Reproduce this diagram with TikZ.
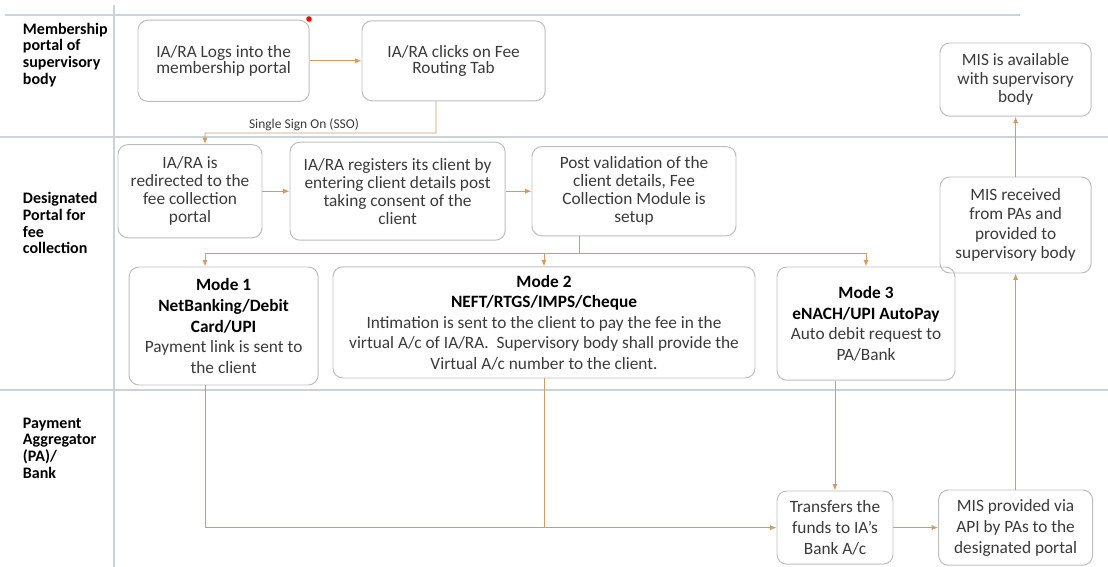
\documentclass[tikz,border=0pt]{standalone}
\usepackage{fontspec}
\setmainfont{Carlito}
\usepackage{tikz}
\usetikzlibrary{arrows.meta,positioning}
\definecolor{flow}{HTML}{D49A66}
\definecolor{edge}{HTML}{BDBDBD}
\definecolor{lane}{HTML}{C9D3DA}
\definecolor{ink}{HTML}{3A3A3A}

\begin{document}
\begin{tikzpicture}[
  stage/.style={draw=edge, rounded corners=7pt, line width=0.7pt, align=center, text=ink, inner sep=2pt, font=\fontsize{12.3}{12.8}\selectfont},
  lanelabel/.style={anchor=west, align=left, font=\fontsize{11.4}{11.9}\selectfont\bfseries},
  ssotext/.style={font=\fontsize{9.6}{10}\selectfont, text=ink, inner sep=1pt},
  flowline/.style={draw=flow, line width=0.7pt},
  flowarrow/.style={flowline, -{Latex[length=1.6mm,width=1.3mm]}},
  lanerule/.style={draw=lane, line width=1pt}
]
  \useasboundingbox (0,0) rectangle (27.7,-14.175);
  \draw[lanerule] (0.125,-0.375) -- (25.5,-0.375);
  \draw[lanerule] (0,-3.425) -- (27.7,-3.425);
  \draw[lanerule] (0,-9.75) -- (27.7,-9.75);
  \draw[lanerule] (2.85,-0.125) -- (2.85,-14.175);

  \node[lanelabel] (memb) at (0.45,-1.37) {Membership\\portal of\\supervisory\\body};
  \node[lanelabel] (desig) at (0.45,-5.58) {Designated\\Portal for\\fee\\collection};
  \node[lanelabel] (payag) at (0.45,-11.2) {Payment\\Aggregator\\(PA)/\\Bank};

  \node[stage, minimum width=4.28cm, minimum height=2.03cm, font=\fontsize{12.3}{11.6}\selectfont] (logs) at (5.59,-1.52) {IA/RA Logs into the\\membership portal};
  \node[stage, minimum width=4.58cm, minimum height=2.0cm, font=\fontsize{12.3}{11.6}\selectfont] (feetab) at (11.34,-1.52) {IA/RA clicks on Fee\\Routing Tab};
  \node[stage, minimum width=3.78cm, minimum height=1.83cm, font=\fontsize{12.3}{13.2}\selectfont] (misavail) at (25.39,-1.99) {MIS is available\\with supervisory\\body};

  \node[stage, minimum width=3.6cm, minimum height=2.33cm] (redirect) at (4.75,-4.78) {IA/RA is\\redirected to the\\fee collection\\portal};
  \node[stage, minimum width=5.38cm, minimum height=2.45cm] (register) at (9.94,-4.78) {IA/RA registers its client by\\entering client details post\\taking consent of the\\client};
  \node[stage, minimum width=5.1cm, minimum height=2.23cm] (setup) at (15.85,-4.78) {Post validation of the\\client details, Fee\\Collection Module is\\setup};
  \node[stage, minimum width=3.78cm, minimum height=2.4cm, font=\fontsize{12.3}{13.9}\selectfont] (misrecv) at (25.39,-5.625) {MIS received\\from PAs and\\provided to\\supervisory body};

  \node[stage, minimum width=4.725cm, minimum height=2.95cm, font=\fontsize{12.3}{14.6}\selectfont] (mode1) at (5.59,-8.15) {\textcolor{black}{\bfseries Mode 1}\\\textcolor{black}{\bfseries NetBanking/Debit}\\\textcolor{black}{\bfseries Card/UPI}\\Payment link is sent to\\the client};
  \node[stage, minimum width=10.55cm, minimum height=2.78cm, font=\fontsize{12.3}{14.6}\selectfont] (mode2) at (13.6,-8.06) {\textcolor{black}{\bfseries Mode 2}\\\textcolor{black}{\bfseries NEFT/RTGS/IMPS/Cheque}\\Intimation is sent to the client to pay the fee in the\\virtual A/c of IA/RA.\ \ Supervisory body shall provide the\\Virtual A/c number to the client.};
  \node[stage, minimum width=4.45cm, minimum height=2.83cm, font=\fontsize{12.3}{14.6}\selectfont] (mode3) at (21.65,-8.09) {\textcolor{black}{\bfseries Mode 3}\\\textcolor{black}{\bfseries eNACH/UPI AutoPay}\\Auto debit request to\\PA/Bank};

  \node[stage, minimum width=2.9cm, minimum height=1.83cm, font=\fontsize{12.3}{15}\selectfont] (transfer) at (20.875,-13.19) {Transfers the\\funds to IA’s\\Bank A/c};
  \node[stage, minimum width=3.85cm, minimum height=1.88cm, font=\fontsize{12.3}{15}\selectfont] (misapi) at (25.39,-13.19) {MIS provided via\\API by PAs to the\\designated portal};

  \node[ssotext] (sso) at (7.6,-3.13) {Single Sign On (SSO)};
  \coordinate (ssoturn) at (10.9,-3.325);
  \coordinate (split) at (14.475,-6.325);

  \draw[flowarrow] (logs) -- (feetab);
  \draw[flowarrow] ([xshift=-0.44cm]feetab.south) -- (ssoturn) -| ([xshift=0.375cm]redirect.north);
  \draw[flowarrow] (redirect) -- (register);
  \draw[flowarrow] (register) -- (setup);
  \draw[flowline] ([xshift=-1.375cm]setup.south) -- (split);
  \draw[flowarrow] (split) -| ([xshift=-0.465cm]mode1.north);
  \draw[flowarrow] (split) -| (mode2.north);
  \draw[flowarrow] (split) -| (mode3.north);
  \draw[flowarrow] ([xshift=-0.465cm]mode1.south) |- (transfer.west);
  \draw[flowline] (mode2.south) -- (mode2.south |- transfer.west);
  \draw[flowarrow] (mode3.south -| transfer.north) -- (transfer.north);
  \draw[flowarrow] (transfer) -- (misapi);
  \draw[flowarrow] (misapi) -- (misrecv);
  \draw[flowarrow] (misrecv) -- (misavail);

  \fill[red] (7.725,-0.475) circle (0.07);
\end{tikzpicture}
\end{document}
